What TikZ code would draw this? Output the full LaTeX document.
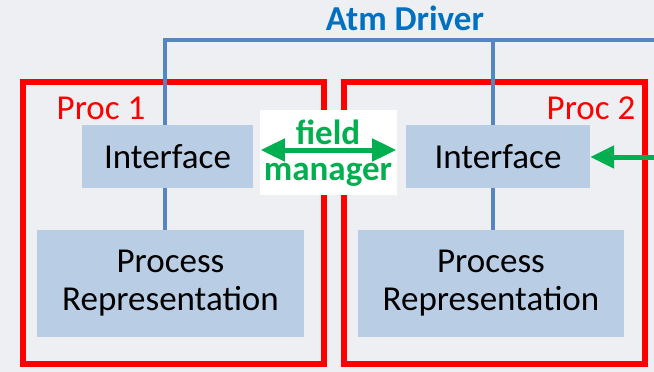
\documentclass[tikz,border=0pt]{standalone}
\usepackage{fontspec}
\setmainfont{Carlito}
\usetikzlibrary{arrows.meta}
\definecolor{bg}{HTML}{EEEFF3}
\definecolor{boxblue}{HTML}{B9CDE5}
\definecolor{busblue}{HTML}{5586C2}
\definecolor{titleblue}{HTML}{0070C0}
\definecolor{fgreen}{HTML}{00B050}
\definecolor{pred}{HTML}{FF0000}
\begin{document}
\begin{tikzpicture}[x=1pt,y=-1pt,
  bigfont/.style={font=\fontsize{35}{38}\selectfont},
  blk/.style={rectangle, fill=boxblue, inner sep=0pt, align=center, bigfont, text=black},
  procbox/.style={rectangle, draw=pred, line width=6pt, inner sep=0pt, minimum width=301pt, minimum height=282pt},
  plabel/.style={inner sep=0pt, text=pred, bigfont},
  bus/.style={draw=busblue, line width=4pt},
  garrow/.style={draw=fgreen, line width=5pt, {Triangle[length=24pt,width=22pt]}-{Triangle[length=24pt,width=22pt]}},
  garrowone/.style={draw=fgreen, line width=5pt, -{Triangle[length=24pt,width=22pt]}},
  gtext/.style={inner sep=0pt, text=fgreen, font=\fontsize{35}{36}\selectfont\bfseries}
]
\useasboundingbox[fill=bg] (0,0) rectangle (654,372);

% process containers
\node[procbox] (proc1) at (173.5,223) {};
\node[procbox] (proc2) at (494.5,223) {};
\node[plabel] (lab1) at (101,108) {Proc 1};
\node[plabel] (lab2) at (591,108) {Proc 2};

% inner boxes
\node[blk, minimum width=171pt, minimum height=63pt] (if1) at (167.5,156.5) {Interface};
\node[blk, minimum width=184pt, minimum height=63pt] (if2) at (498,156.5) {Interface};
\node[blk, minimum width=267pt, minimum height=107pt] (pr1) at (170.5,283.5) {Process\\Representation};
\node[blk, minimum width=266pt, minimum height=107pt] (pr2) at (491,283.5) {Process\\Representation};

% Atm driver bus
\node[inner sep=0pt, text=titleblue, font=\fontsize{35}{38}\selectfont\bfseries] (atm) at (405,18) {Atm Driver};
\coordinate (t1) at (165,40);
\coordinate (t2) at (493,40);
\coordinate (busR) at (660,40);
\draw[bus] (t1 |- if1.north) -- (t1) -- (busR);
\draw[bus] (t2) -- (t2 |- if2.north);
\draw[bus] (t1 |- if1.south) -- (t1 |- pr1.north);
\draw[bus] (t2 |- if2.south) -- (t2 |- pr2.north);

% field manager
\node[fill=white, inner sep=0pt, minimum width=137pt, minimum height=85pt] (fm) at (328.5,152.5) {};
\node[gtext, anchor=base] (fmt1) at (328,144) {field};
\node[gtext, anchor=base] (fmt2) at (328,180) {manager};
\draw[garrow] ([xshift=1pt,yshift=2.5pt]fm.west) -- ([xshift=-1pt,yshift=2.5pt]fm.east);

% external arrow
\coordinate (ext) at (670,157);
\draw[garrowone] (ext) -- (if2.east |- ext);
\end{tikzpicture}
\end{document}
